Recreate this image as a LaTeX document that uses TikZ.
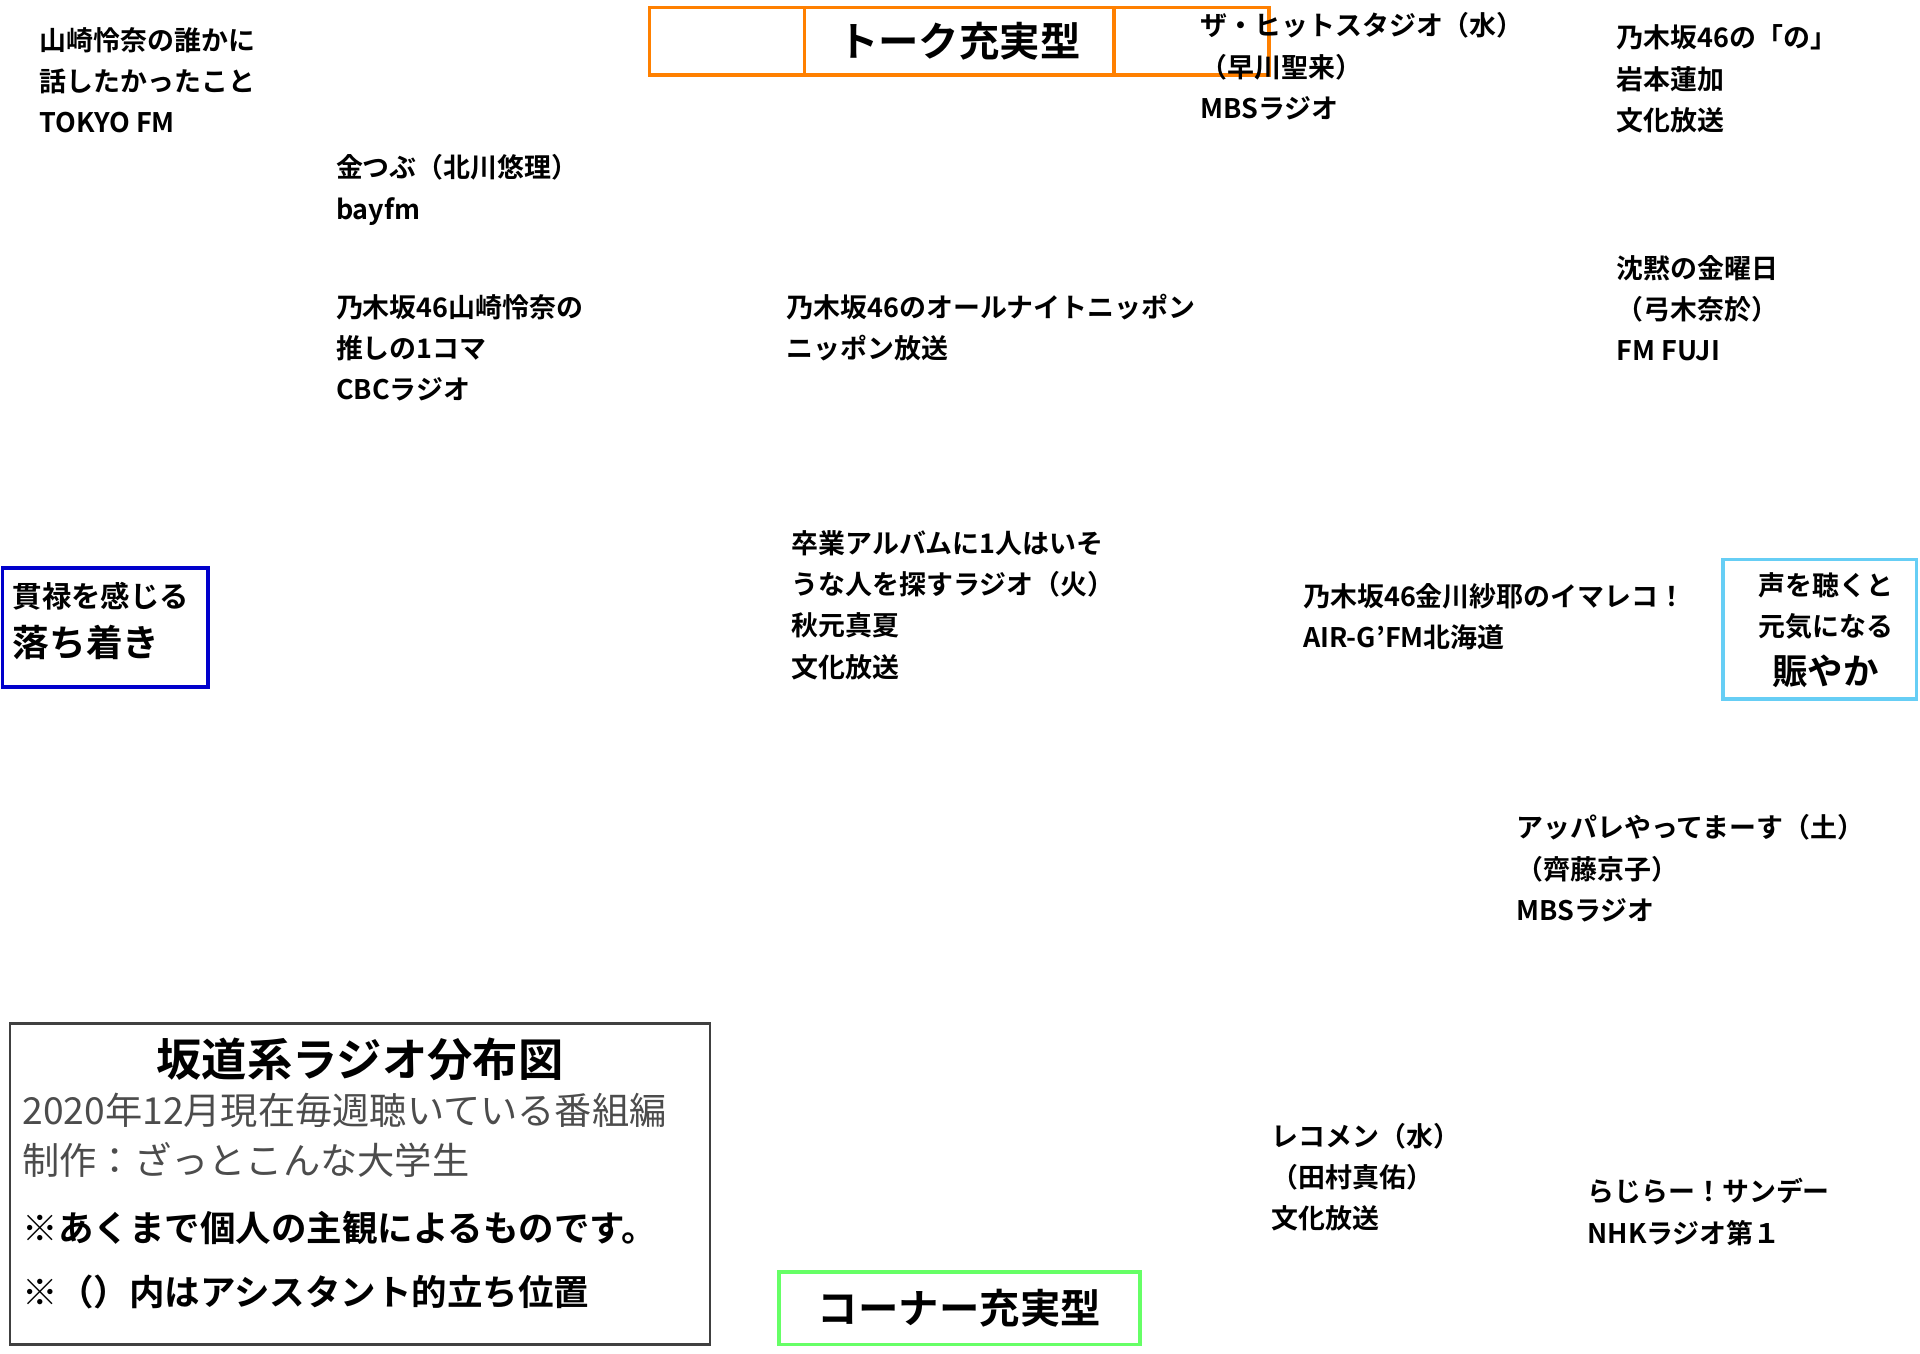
\documentclass[tikz,border=0pt]{standalone}
\usepackage{fontspec}
\setmainfont{Noto Sans CJK JP}[BoldFont={* Bold}]
\newfontfamily\jpb{Noto Sans CJK JP Bold}
\newfontfamily\jpr{Noto Sans CJK JP}
\begin{document}
\begin{tikzpicture}[x=0.5pt,y=-0.5pt,
  prog/.style={anchor=north west,inner sep=0pt,align=left,font=\jpb\fontsize{11}{16.8}\selectfont},
  axis/.style={draw,line width=1.5pt,inner sep=0pt,font=\jpb\fontsize{16.5}{20}\selectfont}]
\useasboundingbox (0,0) rectangle (1568,1105);
\node[prog] (yamazaki) at (32,22) {山崎怜奈の誰かに\\話したかったこと\\TOKYO FM};
\node[axis,draw=orange,minimum width=253pt*0.5*2/1,minimum height=55*0.5pt] (talk) at (783.5,33.5) {トーク充実型};
\node[prog] (hit) at (980,10) {ザ・ヒットスタジオ（水）\\（早川聖来）\\MBSラジオ};
\node[prog] (no) at (1320,20) {乃木坂46の「の」\\岩本蓮加\\文化放送};
\node[prog] (kin) at (274,126) {金つぶ（北川悠理）\\bayfm};
\node[prog] (oshi) at (274,240) {乃木坂46山崎怜奈の\\推しの1コマ\\CBCラジオ};
\node[prog] (ann) at (642,240) {乃木坂46のオールナイトニッポン\\ニッポン放送};
\node[prog] (chin) at (1320,208) {沈黙の金曜日\\（弓木奈於）\\FM FUJI};
\node[prog] (sotsu) at (646,433) {卒業アルバムに1人はいそ\\うな人を探すラジオ（火）\\秋元真夏\\文化放送};
\node[prog] (ima) at (1064,476) {乃木坂46金川紗耶のイマレコ！\\AIR-G’FM北海道};
\node[prog] (appa) at (1238,665) {アッパレやってまーす（土）\\（齊藤京子）\\MBSラジオ};
\node[prog] (reco) at (1038,917) {レコメン（水）\\（田村真佑）\\文化放送};
\node[prog] (raji) at (1296,962) {らじらー！サンデー\\NHKラジオ第１};
\draw[blue!80!black,line width=1.5pt] (2,464) rectangle (170,561);
\node[prog,font=\jpb\fontsize{12}{14}\selectfont] (kanroku) at (10,475) {貫禄を感じる};
\node[prog,font=\jpb\fontsize{15}{18}\selectfont] (ochi) at (10,510) {落ち着き};
\draw[cyan!60,line width=1.5pt] (1407,457) rectangle (1565,571);
\node[inner sep=0pt,align=center,font=\jpb\fontsize{11}{16.5}\selectfont] (koe) at (1491,495) {声を聴くと\\元気になる};
\node[inner sep=0pt,font=\jpb\fontsize{14.5}{18}\selectfont] (nigi) at (1491,548) {賑やか};
\draw[black!75,line width=1pt] (8,836) rectangle (580,1098);
\node[inner sep=0pt,font=\jpb\fontsize{18.5}{22}\selectfont] (title) at (294,865) {坂道系ラジオ分布図};
\node[anchor=west,inner sep=0pt,text=black!70,font=\jpr\fontsize{15.2}{18}\selectfont] (l1) at (18,907) {2020年12月現在毎週聴いている番組編};
\node[anchor=west,inner sep=0pt,text=black!70,font=\jpr\fontsize{15.2}{18}\selectfont] (l2) at (18,947) {制作：ざっとこんな大学生};
\node[anchor=west,inner sep=0pt,font=\jpb\fontsize{14.5}{18}\selectfont] (l3) at (18,1003) {※あくまで個人の主観によるものです。};
\node[anchor=west,inner sep=0pt,font=\jpb\fontsize{14.5}{18}\selectfont] (l4) at (18,1055) {※（）内はアシスタント的立ち位置};
\draw[orange,line width=1.5pt] (657,6) rectangle (910,61);
\draw[green!60,line width=1.5pt] (636,1039) rectangle (931,1098);
\node[inner sep=0pt,font=\jpb\fontsize{16.5}{20}\selectfont] (corner) at (783.5,1068) {コーナー充実型};
\end{tikzpicture}
\end{document}
